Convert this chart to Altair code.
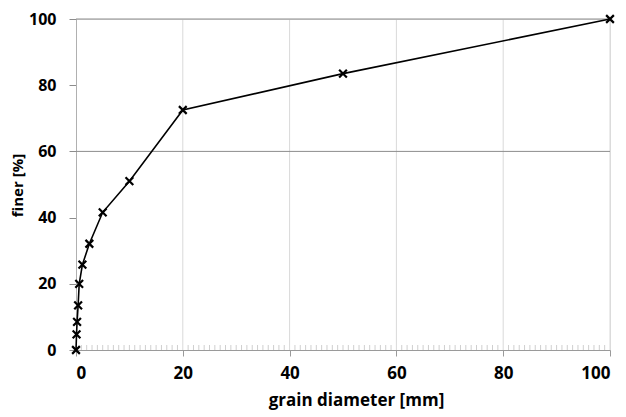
import altair as alt
import pandas as pd

diameter = [0, 0.1, 0.2, 0.4, 0.6, 1.2, 2.5, 5, 10, 20, 50, 100]
finer = [0, 4.7, 8.5, 13.5, 20, 25.8, 32.1, 41.6, 51, 72.5, 83.5, 100]
x_ticks = [0, 20, 40, 60, 80, 100]
y_ticks = [0, 20, 40, 60, 80, 100]
h_lines = [60, 100]
v_grid = [20, 40, 60, 80, 100]
minor_x = [i for i in range(1, 100) if i % 20 != 0]

df = pd.DataFrame({"d": diameter, "f": finer})
FONT = "Open Sans"

xs = alt.Scale(domain=[0, 100], nice=False)
ys = alt.Scale(domain=[0, 100], nice=False)

x_axis = alt.Axis(values=x_ticks, grid=False, domainColor="#9a9a9a", tickColor="#9a9a9a",
                  tickSize=6, labelFont=FONT, labelFontSize=17, labelFontWeight="bold",
                  labelColor="black", labelPadding=9, titleFont=FONT, titleFontSize=17,
                  titleFontWeight="bold", titleColor="black", titlePadding=11, titleX=280)
y_axis = alt.Axis(values=y_ticks, grid=False, domainColor="#b0b0b0", tickColor="#8c8c8c",
                  tickSize=7, labelFont=FONT, labelFontSize=16, labelFontWeight="bold",
                  labelColor="black", labelPadding=13, titleFont=FONT, titleFontSize=15,
                  titleFontWeight="bold", titleColor="black",
                  titleX=-59, titleY=166, titleAngle=270, titleAlign="center",
                  titleBaseline="middle")
XT = "grain diameter [mm]"
YT = "finer [%]"

base_line = alt.Chart(df).mark_line(color="black", strokeWidth=1.6).encode(
    x=alt.X("d:Q", scale=xs, title=XT, axis=x_axis),
    y=alt.Y("f:Q", scale=ys, title=YT, axis=y_axis),
    order="d:Q"
)
grid = alt.Chart(pd.DataFrame({"g": v_grid})).mark_rule(color="#d9d9d9", strokeWidth=1).encode(
    x=alt.X("g:Q", scale=xs, title=XT, axis=x_axis)
)
minor = alt.Chart(pd.DataFrame({"m": minor_x})).mark_rule(color="#cfcfcf", strokeWidth=1).encode(
    x=alt.X("m:Q", scale=xs, title=XT, axis=x_axis),
    y=alt.value(326), y2=alt.value(331)
)
hl = alt.Chart(pd.DataFrame({"h": h_lines})).mark_rule(color="#8c8c8c", strokeWidth=1).encode(
    y=alt.Y("h:Q", scale=ys, title=YT, axis=y_axis)
)
pts = alt.Chart(df).mark_point(
    shape="M-1,-1L1,1M-1,1L1,-1", size=60, filled=False, color="black", strokeWidth=2.2, opacity=1
).encode(
    x=alt.X("d:Q", scale=xs, title=XT, axis=x_axis),
    y=alt.Y("f:Q", scale=ys, title=YT, axis=y_axis)
)

chart = alt.layer(grid, minor, hl, base_line, pts).properties(
    width=534, height=331,
    autosize=alt.AutoSizeParams(type="none"),
    padding={"left": 68, "top": 11, "right": 8, "bottom": 66}
).configure_view(stroke=None).configure(background="white")

chart.save("out.html", embed_options={"renderer": "svg", "actions": False})
